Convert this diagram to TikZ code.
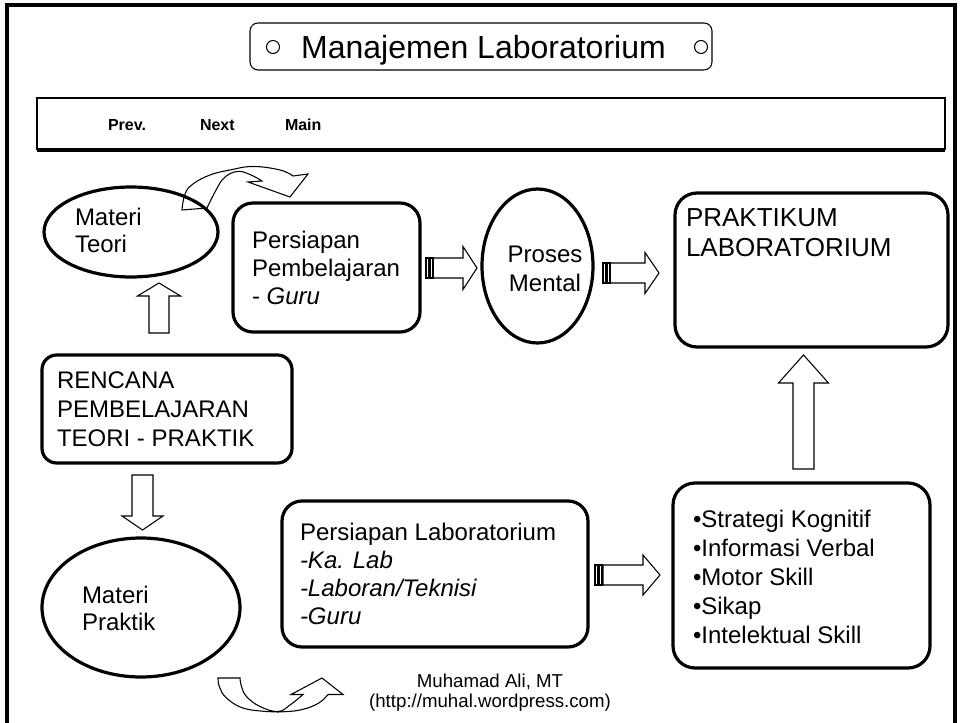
\documentclass[tikz,border=0pt]{standalone}
\usepackage{fontspec}
\setmainfont{Liberation Sans}
\usetikzlibrary{shapes.geometric}

% straight block arrows (coordinates in px, y downwards)
% horizontal: x0, tip x, centre y, shaft half width, head half width, head length
\newcommand\hblock[6]{%
  \draw[blk] (#1,{#3-#4}) -- ({#2-#6},{#3-#4}) -- ({#2-#6},{#3-#5}) -- (#2,#3)
    -- ({#2-#6},{#3+#5}) -- ({#2-#6},{#3+#4}) -- (#1,{#3+#4}) -- cycle;}
% two stripes in front of a striped arrow: x0, centre y, half width
\newcommand\hstripes[3]{%
  \draw[blk] (#1,{#2-#3}) rectangle ({#1+2.5},{#2+#3});
  \draw[blk] ({#1+4},{#2-#3}) rectangle ({#1+7},{#2+#3});}
% vertical: base y, tip y, centre x, shaft half width, head half width, head length
\newcommand\vblock[6]{%
  \draw[blk] ({#3-#4},#1) -- ({#3-#4},{#2+#6*sign(#1-#2)}) -- ({#3-#5},{#2+#6*sign(#1-#2)})
    -- (#3,#2) -- ({#3+#5},{#2+#6*sign(#1-#2)}) -- ({#3+#4},{#2+#6*sign(#1-#2)})
    -- ({#3+#4},#1) -- cycle;}

\begin{document}
\begin{tikzpicture}[x=0.75pt, y=-0.75pt,
  every node/.style={inner sep=0pt, outer sep=0pt},
  heavy/.style={line width=2.4pt},
  hair/.style={line width=0.8pt},
  rbox/.style={draw, heavy, rectangle, rounded corners=#1},
  rbox/.default=15pt,
  oval/.style={draw, heavy, ellipse},
  blk/.style={draw, hair, line join=miter},
  body/.style={anchor=north west, align=left, font=\fontsize{18}{21.75}\selectfont},
  navtxt/.style={anchor=base west, font=\bfseries\fontsize{12}{14}\selectfont},
  dot/.style={draw, hair, circle, minimum size=13*0.75pt},
]
\useasboundingbox (0,0) rectangle (960,723);

% page frame
\draw[heavy] (7,723) -- (7,5) -- (955,5) -- (955,723);

% title
\node[draw, hair, rectangle, rounded corners=6pt, minimum width=462*0.75pt,
      minimum height=47*0.75pt] (titlebox) at (481,46.5) {};
\node[dot] (dl) at (273,47) {};
\node[dot] (dr) at (701,47) {};
\node[anchor=base, font=\fontsize{24}{28}\selectfont] (title) at (483.5,58.5) {Manajemen Laboratorium};

% navigation bar
\draw[hair] (37,150) -- (37,98) -- (945,98) -- (945,150);
\draw[heavy] (37,150) -- (945,150);
\node[navtxt] (prev) at (108,131) {Prev.};
\node[navtxt] (next) at (200,131) {Next};
\node[navtxt] (main) at (285,131) {Main};

% curved arrow from Materi Teori over to the preparation box
\draw[blk] plot[smooth, tension=0.7] coordinates {(182,210) (185,194) (193,184) (210,175)
    (230,170) (253,166.5) (280,170) (293,176)}
  -- (308,174) -- (290,197) -- (248,182)
  -- plot[smooth, tension=0.7] coordinates {(262,181) (250,174.5) (237,171.5) (224,178)
    (215,192) (207,208)}
  -- cycle;

% curved arrow below Materi Praktik
\draw[blk] plot[smooth, tension=0.7] coordinates {(218,678) (219.5,687) (226.5,698) (243,708)
    (266,711.5) (278,712) (300,710) (318,703.5) (328,694.5)}
  -- (343,694.5) -- (322,678) -- (291,694.5)
  -- plot[smooth, tension=0.7] coordinates {(303,694.5) (290,705) (278,711.5) (260,706.5)
    (246.5,696.5) (241.5,686.5) (240,678)}
  -- cycle;

% boxes and ovals
\node[oval, minimum width=174*0.75pt, minimum height=90*0.75pt] (teori) at (131,232) {};
\node[rbox=15pt, minimum width=187*0.75pt, minimum height=129*0.75pt] (prepteach) at (326.5,267.5) {};
\node[oval, minimum width=111*0.75pt, minimum height=154*0.75pt] (mental) at (537.5,266) {};
\node[rbox=16.5pt, minimum width=273*0.75pt, minimum height=154*0.75pt] (praktikum) at (811.5,270) {};
\node[rbox=11pt, minimum width=250*0.75pt, minimum height=108*0.75pt] (rencana) at (167,409) {};
\node[oval, minimum width=198*0.75pt, minimum height=139*0.75pt] (praktik) at (141,607.5) {};
\node[rbox=15pt, minimum width=306*0.75pt, minimum height=146*0.75pt] (preplab) at (435,574) {};
\node[rbox=16.5pt, minimum width=257*0.75pt, minimum height=185*0.75pt] (skills) at (801.5,575.5) {};

% texts
\node[body, font=\fontsize{18}{20.25}\selectfont] (teoriT) at (75,208) {Materi\\Teori};
\node[body, font=\fontsize{18}{21}\selectfont] (prepteachT) at (252,231) {Persiapan\\Pembelajaran\\- \textit{Guru}};
\node[anchor=north, align=center, font=\fontsize{18}{21.75}\selectfont] (mentalT) at (545,246) {Proses\\Mental};
\node[body, font=\fontsize{19.5}{22.5}\selectfont] (praktikumT) at (686,208.4) {PRAKTIKUM\\LABORATORIUM};
\node[body] (rencanaT) at (57,372) {RENCANA\\PEMBELAJARAN\\TEORI - PRAKTIK};
\node[body, font=\fontsize{18}{20.25}\selectfont] (praktikT) at (82,586) {Materi\\Praktik};
\node[body, font=\fontsize{18}{21}\selectfont] (preplabT) at (300,523) {Persiapan Laboratorium\\\textit{-Ka. Lab}\\\textit{-Laboran/Teknisi}\\\textit{-Guru}};
\node[body] (skillsT) at (693,510) {•Strategi Kognitif\\•Informasi Verbal\\•Motor Skill\\•Sikap\\•Intelektual Skill};

% block arrows
\vblock{333}{283}{159}{10}{21.5}{13}
\vblock{475}{530}{142.5}{10.5}{20.5}{14}
\vblock{469}{355}{803.5}{10.5}{25}{28}
\hstripes{426}{268}{10}
\hblock{433}{477}{268}{10}{21.5}{14}
\hstripes{603}{273}{10}
\hblock{610}{659}{273}{10}{20.5}{14}
\hstripes{595}{575}{10}
\hblock{603}{660}{575}{10}{20}{17}

% credit
\node[anchor=north, align=center, font=\fontsize{14}{15}\selectfont] (credit) at (490,673.6)
  {Muhamad Ali, MT\\(http://muhal.wordpress.com)};
\end{tikzpicture}
\end{document}
